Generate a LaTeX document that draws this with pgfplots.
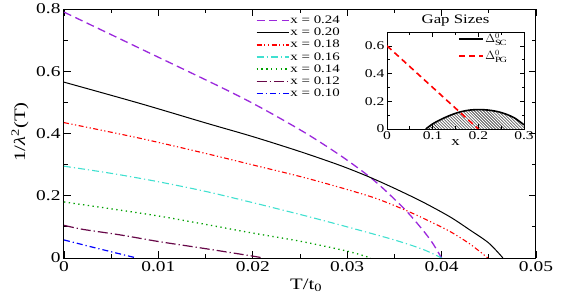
\documentclass[border=0pt]{standalone}
\usepackage{pgfplots}
\pgfplotsset{compat=1.18}
\usetikzlibrary{patterns}
\usepackage{fontspec}
\setmainfont[FakeStretch=1.3]{Liberation Serif}
\definecolor{cviolet}{RGB}{155,40,220}
\definecolor{cturq}{RGB}{64,224,208}
\definecolor{cgreen}{RGB}{0,160,0}
\definecolor{cmaroon}{RGB}{103,7,72}
\begin{document}
\begin{tikzpicture}
\begin{axis}[
  at={(0,0)}, anchor=south west,
  width=472bp, height=249bp, scale only axis,
  xmin=0, xmax=0.05, ymin=0, ymax=0.8,
  scaled ticks=false,
  xtick={0,0.01,0.02,0.03,0.04,0.05},
  xticklabels={0,0.01,0.02,0.03,0.04,0.05},
  ytick={0,0.2,0.4,0.6,0.8},
  yticklabels={0,0.2,0.4,0.6,0.8},
  minor x tick num=1, minor y tick num=1,
  tick align=inside, major tick length=7bp, minor tick length=4bp,
  every tick/.style={black, line width=0.8bp},
  axis line style={line width=1bp},
  tick label style={font=\fontsize{15}{15}\selectfont},
  xlabel={T/t\textsubscript{0}},
  ylabel={1/\textit{λ}\textsuperscript{2}(T)},
  label style={font=\fontsize{16}{16}\selectfont},
  xlabel style={at={(axis description cs:0.513,0)}, anchor=north, yshift=-17bp},
  ylabel style={at={(axis description cs:-0.093,0.506)}, anchor=center, rotate=0},
  legend style={at={(0.40,0.985)}, anchor=north west, draw=none, fill=none,
    font=\fontsize{11.5}{11.5}\selectfont, row sep=0.6bp,
    nodes={inner sep=1.2bp},
    /tikz/every even column/.append style={column sep=7bp}},
  legend cell align=left,
  legend image code/.code={\draw[#1, line width=1.3bp] (0bp,0bp) -- (32bp,0bp);},
]
\addplot[cviolet, line width=1.3bp, dash pattern=on 8bp off 4.5bp, smooth] coordinates {
(0,0.790) (0.008,0.674) (0.0186,0.519) (0.025,0.412) (0.0292,0.331) (0.0322,0.265)
(0.034,0.218) (0.0363,0.150) (0.038,0.090) (0.039,0.050) (0.0400,0)};
\addlegendentry{x = 0.24}
\addplot[black, line width=1bp, smooth] coordinates {
(0,0.565) (0.008,0.497) (0.015,0.434) (0.02,0.390) (0.025,0.342) (0.0292,0.298)
(0.0322,0.262) (0.035,0.224) (0.038,0.180) (0.0409,0.132) (0.043,0.090) (0.045,0.048) (0.0465,0)};
\addlegendentry{x = 0.20}
\addplot[red, line width=1.1bp, dash pattern=on 5bp off 2.5bp on 1.2bp off 2.5bp on 1.2bp off 2.5bp, smooth] coordinates {
(0,0.435) (0.008,0.385) (0.015,0.336) (0.02,0.299) (0.025,0.262) (0.0292,0.227)
(0.033,0.192) (0.0363,0.152) (0.039,0.114) (0.0409,0.085) (0.043,0.045) (0.0449,0)};
\addlegendentry{x = 0.18}
\addplot[cturq, line width=1.1bp, dash pattern=on 7bp off 3bp on 1.2bp off 3bp, smooth] coordinates {
(0,0.295) (0.005,0.272) (0.01,0.245) (0.015,0.214) (0.0197,0.180) (0.025,0.140)
(0.03,0.100) (0.035,0.058) (0.038,0.028) (0.040,0)};
\addlegendentry{x = 0.16}
\addplot[cgreen, line width=1.3bp, dash pattern=on 1.3bp off 3.5bp, smooth] coordinates {
(0,0.180) (0.005,0.158) (0.01,0.135) (0.015,0.108) (0.02,0.080) (0.025,0.054)
(0.03,0.022) (0.0325,0)};
\addlegendentry{x = 0.14}
\addplot[cmaroon, line width=1.2bp, dash pattern=on 10bp off 3bp on 1.2bp off 3bp, smooth] coordinates {
(0,0.105) (0.002,0.092) (0.006,0.074) (0.01,0.053) (0.015,0.030) (0.02,0.006) (0.0211,0)};
\addlegendentry{x = 0.12}
\addplot[blue, line width=1.2bp, dash pattern=on 6bp off 3bp on 1.2bp off 3bp, smooth] coordinates {
(0,0.058) (0.003,0.035) (0.005,0.020) (0.0077,0)};
\addlegendentry{x = 0.10}
\end{axis}
\begin{axis}[
  at={(323bp,129bp)}, anchor=south west,
  width=137bp, height=97bp, scale only axis,
  axis background/.style={fill=white},
  xmin=0, xmax=0.3, ymin=0, ymax=0.7,
  scaled ticks=false,
  xtick={0,0.1,0.2,0.3}, xticklabels={0,0.1,0.2,0.3},
  ytick={0,0.2,0.4,0.6}, yticklabels={0,0.2,0.4,0.6},
  minor x tick num=1, minor y tick num=1,
  tick align=inside, major tick length=4.5bp, minor tick length=2.5bp,
  every tick/.style={black, line width=0.7bp},
  axis line style={line width=0.9bp},
  tick label style={font=\fontsize{12}{12}\selectfont},
  xticklabel style={inner sep=2bp},
  yticklabel style={inner sep=2.5bp},
  title={Gap Sizes},
  title style={font=\fontsize{13}{13}\selectfont, yshift=-4bp},
  xlabel={x},
  xlabel style={font=\fontsize{13}{13}\selectfont, yshift=5bp},
  legend style={at={(0.5,1.02)}, anchor=north west, draw=none, fill=none,
    font=\fontsize{12}{12}\selectfont, row sep=3.5bp, nodes={inner sep=1.2bp},
    /tikz/every even column/.append style={column sep=5bp}},
  legend cell align=left,
  legend image code/.code={\draw[#1] (0bp,0bp) -- (24bp,0bp);},
]
\addplot[draw=none, pattern=north west lines, forget plot] coordinates {
(0.085,0) (0.1,0.037) (0.12,0.072) (0.14,0.101) (0.16,0.123) (0.18,0.136) (0.2,0.140)
(0.22,0.137) (0.24,0.127) (0.26,0.108) (0.28,0.078) (0.3,0.030)} \closedcycle;
\addplot[black, line width=1.6bp, smooth] coordinates {
(0.085,0) (0.1,0.037) (0.12,0.072) (0.14,0.101) (0.16,0.123) (0.18,0.136) (0.2,0.140)
(0.22,0.137) (0.24,0.127) (0.26,0.108) (0.28,0.078) (0.3,0.030)};
\addlegendentry{$\Delta^{0}_{\mathrm{SC}}$}
\addplot[red, line width=1.6bp, dash pattern=on 6bp off 4bp] coordinates {(0,0.6) (0.2,0)};
\addlegendentry{$\Delta^{0}_{\mathrm{PG}}$}
\end{axis}
\path (-64bp,-42bp) rectangle (509bp,258bp);
\end{tikzpicture}
\end{document}
